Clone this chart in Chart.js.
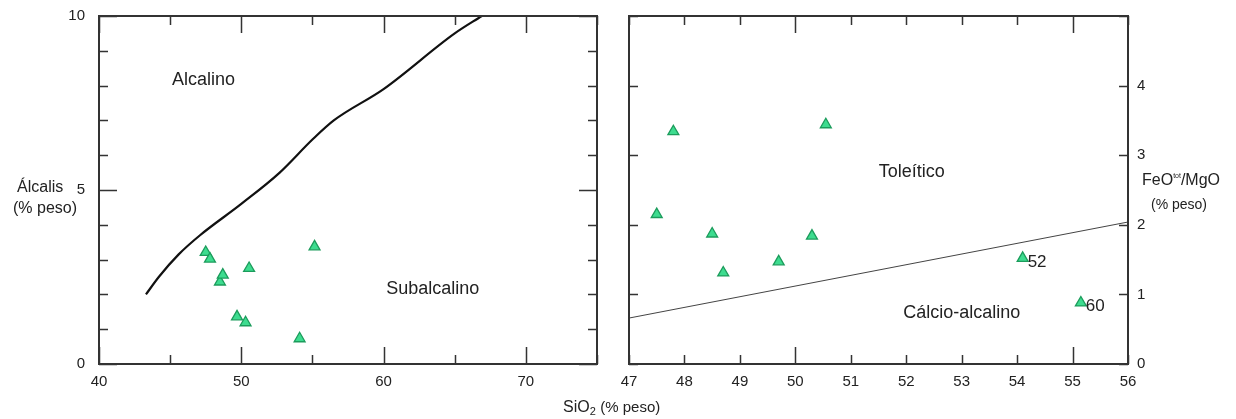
<!DOCTYPE html>
<html lang="pt">
<head>
    <meta charset="UTF-8">
    <title>Diagramas de classificação</title>
    <script src="https://cdn.jsdelivr.net/npm/chart.js@4.4.1/dist/chart.umd.min.js"></script>
    <style>
        body { margin: 0; background: #fff; font-family: "Liberation Sans", Arial, sans-serif; color: #222; }
        #page { position: relative; width: 1236px; height: 419px; overflow: hidden; }
        canvas { position: absolute; top: 0; }
        .title { position: absolute; white-space: nowrap; line-height: 1; }
    </style>
</head>
<body>
<div id="page">
    <canvas id="tas-chart" width="610" height="419" style="left:0"></canvas>
    <canvas id="afm-chart" width="626" height="419" style="left:610px"></canvas>

    <div class="title" style="left:17px; top:179px; font-size:16px;">Álcalis</div>
    <div class="title" style="left:13px; top:200px; font-size:16px;">(% peso)</div>

    <div class="title" style="left:563px; top:399px; font-size:16px;">SiO<sub style="font-size:11px; vertical-align:-3px;">2</sub>&nbsp;<span style="font-size:15px;">(% peso)</span></div>

    <div class="title" style="left:1142px; top:172px; font-size:16px;">FeO<sup style="font-size:7px; vertical-align:7px;">tot</sup>/MgO</div>
    <div class="title" style="left:1151px; top:197px; font-size:14px;">(% peso)</div>
</div>

<script>
    // sample compositions (same samples in both diagrams)
    const sio2 = [47.5, 47.8, 48.5, 48.7, 49.7, 50.3, 50.55, 54.1, 55.15];
    const alkalis = [3.21, 3.02, 2.36, 2.56, 1.36, 1.19, 2.75, 0.73, 3.37];
    const feoMgo = [2.15, 3.34, 1.87, 1.31, 1.47, 1.84, 3.44, 1.52, 0.88];
    const sampleLabels = ['', '', '', '', '', '', '', '52', '60'];

    // alkaline / subalkaline divide
    const divideSio2 = [43.3, 44.2, 45.6, 47.1, 50.0, 52.7, 55.0, 56.5, 60.0, 65.0, 66.9];
    const divideAlk = [2.0, 2.5, 3.15, 3.7, 4.6, 5.5, 6.45, 7.0, 7.9, 9.5, 10.0];

    // tholeiitic / calc-alkaline divide
    const tholSio2 = [47, 56];
    const tholRatio = [0.66, 2.04];

    // axis tick labels
    const tasXTicks = [40, 50, 60, 70];
    const tasYTicks = [0, 5, 10];
    const afmXTicks = [47, 48, 49, 50, 51, 52, 53, 54, 55, 56];
    const afmYTicks = [0, 1, 2, 3, 4];

    // field names
    const tasFields = ['Alcalino', 'Subalcalino'];
    const tasFieldX = [47.35, 63.45];
    const tasFieldY = [8.16, 2.16];
    const afmFields = ['Toleítico', 'Cálcio-alcalino'];
    const afmFieldX = [52.1, 53.0];
    const afmFieldY = [2.76, 0.73];

    const FONT = '"Liberation Sans", Arial, sans-serif';
    const INK = '#333';

    const toPoints = (xs, ys) => xs.map((x, i) => ({ x: x, y: ys[i] }));

    // frame + inward tick marks + field names + point labels
    function framePlugin(cfg) {
        return {
            id: 'frame',
            afterDatasetsDraw(chart) {
                const { ctx, chartArea: a, scales: { x, y } } = chart;
                ctx.save();
                ctx.strokeStyle = INK;
                ctx.lineWidth = 1.5;
                ctx.beginPath();
                for (let v = x.min; v <= x.max + 1e-9; v += cfg.xStep) {
                    const len = cfg.xMajor(v) ? 17 : 9;
                    const px = Math.round(x.getPixelForValue(v)) + 0.5;
                    ctx.moveTo(px, a.bottom); ctx.lineTo(px, a.bottom - len);
                    ctx.moveTo(px, a.top); ctx.lineTo(px, a.top + len);
                }
                for (let v = y.min; v <= y.max + 1e-9; v += cfg.yStep) {
                    const len = cfg.yMajor(v) ? 18 : 9;
                    const py = Math.round(y.getPixelForValue(v)) + 0.5;
                    ctx.moveTo(a.left, py); ctx.lineTo(a.left + len, py);
                    ctx.moveTo(a.right, py); ctx.lineTo(a.right - len, py);
                }
                ctx.stroke();
                ctx.lineWidth = 2;
                ctx.strokeRect(a.left, a.top, a.right - a.left, a.bottom - a.top);

                ctx.fillStyle = '#222';
                ctx.font = '18px ' + FONT;
                ctx.textAlign = 'center';
                ctx.textBaseline = 'middle';
                cfg.fields.forEach((t, i) => {
                    ctx.fillText(t, x.getPixelForValue(cfg.fieldX[i]), y.getPixelForValue(cfg.fieldY[i]));
                });

                if (cfg.pointLabels) {
                    const meta = chart.getDatasetMeta(cfg.pointDataset);
                    ctx.font = '17px ' + FONT;
                    ctx.textAlign = 'left';
                    cfg.pointLabels.forEach((t, i) => {
                        if (!t) return;
                        const p = meta.data[i];
                        ctx.fillText(t, p.x + 5, p.y + 4);
                    });
                }
                ctx.restore();
            }
        };
    }

    const sampleStyle = {
        pointStyle: 'triangle',
        pointRadius: 6.3,
        backgroundColor: '#3ddc8f',
        borderColor: '#1c9c5c',
        borderWidth: 1.3,
        showLine: false
    };

    // the gap between frame and labels comes from an invisible tick mark,
    // so it doesn't push the chart area around like ticks.padding does
    function axis(min, max, ticks, gap, extra) {
        return Object.assign({
            type: 'linear',
            min: min,
            max: max,
            grid: { display: true, drawOnChartArea: false, drawTicks: true, tickLength: gap, color: 'rgba(0,0,0,0)' },
            border: { display: false },
            afterBuildTicks: s => { s.ticks = ticks.map(v => ({ value: v })); },
            ticks: { color: '#222', padding: 0, font: { family: FONT, size: 15 } }
        }, extra);
    }

    // SiO2 x alkalis
    new Chart(document.getElementById('tas-chart'), {
        type: 'scatter',
        data: {
            datasets: [
                {
                    data: toPoints(divideSio2, divideAlk),
                    showLine: true,
                    borderColor: '#111',
                    borderWidth: 2.2,
                    pointRadius: 0,
                    cubicInterpolationMode: 'monotone'
                },
                Object.assign({ data: toPoints(sio2, alkalis) }, sampleStyle)
            ]
        },
        options: {
            responsive: false,
            animation: false,
            layout: { padding: { top: 16, right: 13, left: 0, bottom: 0 } },
            plugins: { legend: { display: false }, tooltip: { enabled: false } },
            scales: {
                x: axis(40, 75, tasXTicks, 9, { afterFit: s => { s.height = 55; } }),
                y: axis(0, 10, tasYTicks, 14, { afterFit: s => { s.width = 99; } })
            }
        },
        plugins: [framePlugin({
            xStep: 5, xMajor: v => v % 10 === 0,
            yStep: 1, yMajor: v => v % 5 === 0,
            fields: tasFields, fieldX: tasFieldX, fieldY: tasFieldY
        })]
    });

    // SiO2 x FeOtot/MgO
    new Chart(document.getElementById('afm-chart'), {
        type: 'scatter',
        data: {
            datasets: [
                {
                    data: toPoints(tholSio2, tholRatio),
                    showLine: true,
                    borderColor: '#444',
                    borderWidth: 1,
                    pointRadius: 0
                },
                Object.assign({ data: toPoints(sio2, feoMgo) }, sampleStyle)
            ]
        },
        options: {
            responsive: false,
            animation: false,
            layout: { padding: { top: 16, right: 0, left: 19, bottom: 0 } },
            plugins: { legend: { display: false }, tooltip: { enabled: false } },
            scales: {
                x: axis(47, 56, afmXTicks, 9, { afterFit: s => { s.height = 55; } }),
                y: axis(0, 5, afmYTicks, 9, { position: 'right', afterFit: s => { s.width = 108; } })
            }
        },
        plugins: [framePlugin({
            xStep: 1, xMajor: v => v === 50 || v === 55,
            yStep: 1, yMajor: () => false,
            fields: afmFields, fieldX: afmFieldX, fieldY: afmFieldY,
            pointLabels: sampleLabels, pointDataset: 1
        })]
    });
</script>
</body>
</html>
